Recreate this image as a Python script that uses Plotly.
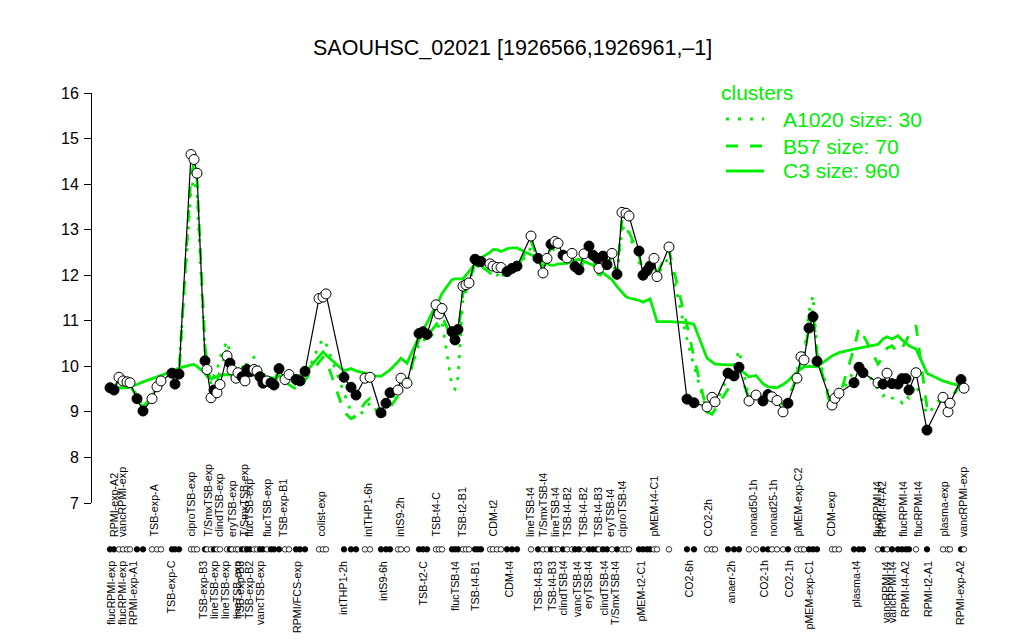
import plotly.graph_objects as go

# ---------------- data ----------------
# position of each condition along the x axis
x_pos = [110, 114, 119, 123, 127, 130, 137, 143, 152, 157, 161, 172, 175, 179, 191, 194, 197,
         205, 207, 211, 214, 217, 220, 227, 230, 232, 236, 238, 242, 245, 247, 250, 254, 257, 260,
         263, 267, 271, 274, 279, 285, 289, 296, 300, 305, 319, 323, 326, 344, 351, 356, 365, 370,
         381, 386, 390, 398, 401, 407, 419, 423, 427, 436, 439, 442, 452, 455, 458, 463, 466, 469,
         475, 478, 481, 490, 493, 497, 501, 507, 512, 517, 531, 538, 543, 547, 551, 555, 558, 563,
         567, 572, 575, 579, 584, 589, 593, 597, 599, 603, 607, 612, 617, 622, 626, 629, 639, 643,
         647, 650, 654, 657, 669, 687, 694, 707, 712, 715, 728, 734, 739, 749, 756, 763, 768, 772,
         777, 783, 788, 797, 801, 804, 809, 813, 817, 832, 835, 839, 854, 859, 863, 878, 883, 887,
         892, 898, 902, 906, 909, 916, 927, 943, 948, 950, 961, 964]

expression = [9.53, 9.48, 9.76, 9.68, 9.66, 9.64, 9.29, 9.02, 9.29, 9.55, 9.68, 9.85, 9.61, 9.83,
              14.65, 14.54, 14.24, 10.12, 9.93, 9.31, 9.48, 9.42, 9.60, 10.23, 10.07, 9.92, 9.74,
              9.86, 9.77, 9.68, 9.93, 9.88, 9.93, 9.90, 9.77, 9.63, 9.68, 9.64, 9.59, 9.95, 9.71,
              9.82, 9.71, 9.68, 9.89, 11.49, 11.52, 11.59, 9.76, 9.54, 9.37, 9.74, 9.76, 8.98, 9.19,
              9.42, 9.48, 9.74, 9.63, 10.72, 10.76, 10.70, 11.35, 11.15, 11.27, 10.76, 10.58, 10.81,
              11.76, 11.79, 11.83, 12.35, 12.31, 12.30, 12.25, 12.20, 12.17, 12.17, 12.08, 12.15,
              12.20, 12.86, 12.37, 12.05, 12.37, 12.68, 12.74, 12.70, 12.44, 12.38, 12.48, 12.19,
              12.12, 12.47, 12.64, 12.44, 12.37, 12.15, 12.42, 12.23, 12.48, 12.02, 13.38, 13.36,
              13.30, 12.53, 12.00, 12.10, 12.20, 12.37, 11.97, 12.62, 9.28, 9.20, 9.11, 9.32, 9.22,
              9.85, 9.79, 9.98, 9.24, 9.37, 9.24, 9.38, 9.33, 9.25, 9.00, 9.19, 9.74, 10.21, 10.14,
              10.84, 11.09, 10.11, 9.15, 9.30, 9.41, 9.64, 9.98, 9.86, 9.64, 9.61, 9.85, 9.62, 9.61,
              9.73, 9.73, 9.48, 9.86, 8.60, 9.32, 9.00, 9.19, 9.71, 9.52]

# 1 = filled (black) marker, 0 = open marker
filled = [1, 1, 0, 0, 0, 0, 1, 1, 0, 0, 0, 1, 1, 1, 0, 0, 0, 1, 0, 0, 1, 0, 0, 0, 1, 0, 0, 0, 1,
          0, 1, 1, 0, 0, 1, 1, 0, 1, 1, 1, 0, 0, 1, 1, 1, 0, 0, 0, 1, 1, 1, 0, 0, 1, 1, 1, 0, 0,
          0, 1, 1, 1, 0, 0, 0, 1, 1, 1, 0, 0, 0, 1, 1, 1, 0, 0, 0, 0, 1, 1, 1, 0, 1, 0, 0, 1, 0,
          0, 1, 0, 0, 1, 1, 0, 1, 1, 1, 0, 1, 1, 0, 1, 0, 0, 0, 1, 1, 1, 1, 0, 0, 0, 1, 1, 0, 0,
          0, 1, 1, 1, 0, 0, 1, 1, 0, 0, 0, 1, 0, 0, 0, 1, 1, 1, 0, 0, 0, 1, 1, 1, 0, 1, 0, 1, 1,
          1, 1, 1, 0, 1, 0, 0, 0, 1, 0]

cluster_A1020 = [9.60, 9.55, 9.70, 9.65, 9.60, 9.60, 9.35, 9.15, 9.30, 9.60, 9.75, 9.95, 9.80, 9.90,
                 13.90, 14.10, 13.80, 10.30, 10.10, 9.60, 9.80, 9.90, 10.20, 10.55, 10.30, 10.10,
                 9.95, 10.05, 10.00, 9.90, 10.10, 10.15, 10.20, 10.05, 9.95, 9.80, 9.85, 9.75, 9.65,
                 9.95, 9.75, 9.80, 9.60, 9.55, 9.75, 10.45, 10.60, 10.50, 9.40, 9.00, 8.85, 9.05,
                 9.20, 8.90, 9.05, 9.30, 9.40, 9.70, 9.60, 10.50, 10.60, 10.55, 10.80, 10.90, 11.00,
                 9.55, 9.50, 9.75, 11.50, 11.65, 11.75, 12.25, 12.20, 12.15, 12.10, 12.05, 12.00,
                 12.05, 12.05, 12.10, 12.15, 12.60, 12.30, 12.20, 12.30, 12.50, 12.60, 12.55, 12.35,
                 12.30, 12.40, 12.15, 12.05, 12.30, 12.45, 12.30, 12.20, 11.90, 12.20, 12.10, 12.30,
                 12.00, 13.00, 13.10, 12.90, 12.30, 11.95, 12.05, 12.15, 12.30, 12.00, 12.40, 10.60,
                 10.00, 9.00, 9.05, 9.10, 9.80, 10.00, 10.35, 9.30, 9.40, 9.30, 9.40, 9.35, 9.25,
                 9.05, 9.20, 9.90, 10.30, 10.25, 11.20, 11.55, 10.35, 9.10, 9.25, 9.35, 9.90, 10.05,
                 10.00, 9.50, 9.35, 9.40, 9.30, 9.30, 9.20, 9.35, 9.30, 9.60, 8.95, 9.30, 9.10, 9.20,
                 9.65, 9.50]

cluster_B57 = [9.55, 9.52, 9.70, 9.65, 9.62, 9.60, 9.30, 9.10, 9.35, 9.55, 9.70, 9.90, 9.75, 9.85,
               14.20, 14.45, 14.10, 10.45, 10.10, 9.60, 9.70, 9.65, 9.90, 10.40, 10.20, 10.00,
               9.85, 9.90, 9.85, 9.80, 10.00, 9.95, 9.95, 9.90, 9.85, 9.70, 9.70, 9.65, 9.60, 9.85,
               9.70, 9.60, 9.50, 9.45, 9.70, 10.10, 10.20, 10.15, 9.00, 8.85, 8.90, 9.20, 9.30,
               9.00, 8.90, 9.10, 9.35, 9.65, 9.60, 10.60, 10.70, 10.65, 10.90, 11.00, 11.10, 10.60,
               10.50, 10.70, 11.60, 11.70, 11.80, 12.30, 12.25, 12.20, 12.05, 11.98, 11.95, 12.00,
               12.00, 12.10, 12.15, 12.75, 12.35, 12.15, 12.40, 12.60, 12.65, 12.60, 12.40, 12.35,
               12.45, 12.20, 12.10, 12.40, 12.55, 12.35, 12.25, 12.00, 12.30, 12.20, 12.40, 12.05,
               13.20, 13.10, 12.95, 12.45, 12.05, 12.10, 12.20, 12.30, 12.05, 12.55, 10.90, 10.20,
               9.00, 8.95, 9.05, 9.50, 9.80, 9.90, 9.30, 9.40, 9.30, 9.35, 9.35, 9.30, 9.15, 9.25,
               9.80, 10.10, 10.15, 10.90, 11.25, 10.30, 9.00, 9.15, 9.30, 10.40, 10.85, 10.70,
               10.05, 10.20, 10.40, 10.45, 10.30, 10.40, 10.55, 10.70, 10.90, 9.10, 9.30, 9.20,
               9.25, 9.65, 9.55]

cluster_C3 = [9.53, 9.53, 9.52, 9.52, 9.53, 9.55, 9.60, 9.66, 9.72, 9.77, 9.80, 9.90, 9.93, 9.96,
              10.03, 10.04, 10.00, 9.85, 9.78, 9.72, 9.75, 9.78, 9.80, 9.82, 9.80, 9.80, 9.82,
              9.84, 9.85, 9.85, 9.86, 9.84, 9.80, 9.78, 9.75, 9.74, 9.76, 9.75, 9.74, 9.78, 9.80,
              9.76, 9.78, 9.80, 9.85, 10.20, 10.32, 10.25, 9.90, 9.95, 9.90, 9.85, 9.80, 9.78,
              9.85, 9.92, 10.10, 10.18, 10.07, 10.65, 10.80, 10.95, 11.35, 11.45, 11.60, 11.90,
              11.92, 11.92, 11.92, 12.00, 12.08, 12.25, 12.33, 12.38, 12.50, 12.56, 12.56, 12.52,
              12.58, 12.60, 12.60, 12.45, 12.38, 12.30, 12.25, 12.22, 12.22, 12.25, 12.26, 12.26,
              12.30, 12.33, 12.35, 12.30, 12.26, 12.22, 12.15, 12.10, 12.05, 11.98, 11.90, 11.75,
              11.62, 11.53, 11.50, 11.45, 11.41, 11.45, 11.48, 11.20, 10.98, 10.98, 10.96, 10.92,
              10.18, 10.10, 10.05, 10.03, 10.03, 9.95, 9.77, 9.80, 9.62, 9.55, 9.54, 9.53, 9.60,
              9.68, 9.88, 9.95, 9.99, 10.00, 10.00, 9.99, 10.23, 10.26, 10.30, 10.38, 10.40, 10.42,
              10.48, 10.60, 10.65, 10.60, 10.67, 10.58, 10.50, 10.45, 10.38, 9.85, 9.68, 9.64,
              9.63, 9.57, 9.55]

# x-axis labels (only the ones printed in the picture), above and below the dot row
top_label_text = ["RPMI-exp-A2", "vancRPMI-exp", "TSB-exp-A", "ciproTSB-exp", "T/SmxTSB-exp",
                  "clindTSB-exp", "eryTSB-exp", "T/SmxTSB-exp", "flucTSB-exp", "flucTSB-exp",
                  "TSB-exp-B1", "colist-exp", "intTHP1-6h", "intS9-2h", "TSB-t4-C", "TSB-t2-B1",
                  "CDM-t2", "lineTSB-t4", "T/SmxTSB-t4", "lineTSB-t4", "TSB-t4-B2", "TSB-t4-B2",
                  "TSB-t4-B3", "eryTSB-t4", "ciproTSB-t4", "pMEM-t4-C1", "CO2-2h", "nonad50-1h",
                  "nonad25-1h", "pMEM-exp-C2", "CDM-exp", "flucRPMI-t4", "RPMI-t4-A2",
                  "flucRPMI-t4", "flucRPMI-t4", "plasma-exp", "vancRPMI-exp"]
top_label_x = [114, 122, 153, 190, 207, 219, 232, 243, 249, 267, 283, 320, 368, 400, 435, 462,
               492, 530, 543, 555, 567, 583, 598, 610, 622, 653, 707, 752, 772, 797, 830, 877,
               882, 903, 918, 943, 963]

bottom_label_text = ["flucRPMI-exp", "flucRPMI-exp", "RPMI-exp-A1", "TSB-exp-C", "TSB-exp-B3",
                     "lineTSB-exp", "lineTSB-exp", "lineTSB-exp", "TSB-exp-B3", "TSB-exp-B2",
                     "vancTSB-exp", "RPMI/FCS-exp", "intTHP1-2h", "intS9-6h", "TSB-t2-C",
                     "flucTSB-t4", "TSB-t4-B1", "CDM-t4", "TSB-t4-B3", "TSB-t4-B3", "clindTSB-t4",
                     "vancTSB-t4", "eryTSB-t4", "clindTSB-t4", "T/SmxTSB-t4", "pMEM-t2-C1",
                     "CO2-6h", "anaer-2h", "CO2-1h", "CO2-1h", "pMEM-exp-C1", "plasma-t4",
                     "vancRPMI-t4", "vancRPMI-t4", "RPMI-t4-A2", "RPMI-t2-A1", "RPMI-exp-A2"]
bottom_label_x = [111, 122, 133, 170, 203, 214, 225, 237, 240, 249, 260, 297, 343, 383, 422,
                  455, 475, 508, 538, 552, 562, 577, 588, 603, 615, 640, 688, 730, 763, 788, 808,
                  855, 886, 892, 905, 928, 960]

cluster_names = ["A1020 size: 30", "B57 size: 70", "C3 size: 960"]
y_ticks = [7, 8, 9, 10, 11, 12, 13, 14, 15, 16]

# ---------------- styling / layout helpers ----------------
GREEN = "#00EE00"
FONT = "Liberation Sans, Arial, sans-serif"
W, H = 1024, 640
TOP = 93                 # pixel row of y=16
BOTTOM = 503             # pixel row of y=7
AREA_H = H - TOP         # plotting area runs down to the bottom of the page
MAIN_DOMAIN0 = (H - BOTTOM) / AREA_H


def py_to_paper(py):
    return (H - py) / AREA_H


fig = go.Figure()

for vals, dash in [(cluster_A1020, "3px,8px"), (cluster_B57, "12px,12px"), (cluster_C3, "solid")]:
    fig.add_trace(go.Scatter(x=x_pos, y=vals, mode="lines",
                             line=dict(color=GREEN, width=2.8, dash=dash),
                             hoverinfo="skip", showlegend=False))

marker_fill = ["black" if f else "white" for f in filled]

fig.add_trace(go.Scatter(x=x_pos, y=expression, mode="lines+markers",
                         line=dict(color="black", width=1.2),
                         marker=dict(size=10, color=marker_fill,
                                     line=dict(color="black", width=1)),
                         showlegend=False))

# dot row under the plot (on a hidden lower axis measured in pixels above page bottom)
fig.add_trace(go.Scatter(x=x_pos, y=[H - 549] * len(x_pos), yaxis="y2", mode="markers",
                         marker=dict(size=5.5, color=marker_fill,
                                     line=dict(color="black", width=0.8)),
                         cliponaxis=False, showlegend=False))

annotations = []
for t, x in zip(top_label_text, top_label_x):
    annotations.append(dict(x=x, y=py_to_paper(539), xref="x", yref="paper", text=t,
                            textangle=-90, showarrow=False, xanchor="center", yanchor="bottom",
                            font=dict(family=FONT, size=10.7, color="black")))
for t, x in zip(bottom_label_text, bottom_label_x):
    annotations.append(dict(x=x, y=py_to_paper(559), xref="x", yref="paper", text=t,
                            textangle=-90, showarrow=False, xanchor="center", yanchor="top",
                            font=dict(family=FONT, size=10.7, color="black")))

# title
annotations.append(dict(x=512, y=py_to_paper(48), xref="x", yref="paper",
                        text="SAOUHSC_02021 [1926566,1926961,\u20131]", showarrow=False,
                        xanchor="center", yanchor="middle",
                        font=dict(family=FONT, size=21.5, color="black")))

# legend (drawn by hand like the R legend)
annotations.append(dict(x=719, y=py_to_paper(92), xref="x", yref="paper", text="clusters",
                        showarrow=False, xanchor="left", yanchor="middle",
                        font=dict(family=FONT, size=21, color=GREEN)))
shapes = []
legend_rows = [119, 146, 171]
for name, py, dash in zip(cluster_names, legend_rows, ["3px,9px", "12px,12px", "solid"]):
    annotations.append(dict(x=781, y=py_to_paper(py), xref="x", yref="paper", text=name,
                            showarrow=False, xanchor="left", yanchor="middle",
                            font=dict(family=FONT, size=21, color=GREEN)))
    shapes.append(dict(type="line", xref="x", yref="paper", x0=726, x1=764,
                       y0=py_to_paper(py), y1=py_to_paper(py),
                       line=dict(color=GREEN, width=2.8, dash=dash)))

fig.update_layout(
    width=W, height=H,
    margin=dict(l=92, r=34, t=TOP, b=0, pad=0, autoexpand=False),
    paper_bgcolor="white", plot_bgcolor="white",
    showlegend=False,
    annotations=annotations, shapes=shapes,
    xaxis=dict(range=[92, 990], visible=False, fixedrange=True, anchor="y",
               automargin=False),
    yaxis=dict(domain=[MAIN_DOMAIN0, 1], range=[7, 16], tickvals=y_ticks,
               ticktext=[str(v) for v in y_ticks], automargin=False,
               showgrid=False, zeroline=False, showline=True, linecolor="black", linewidth=1,
               ticks="outside", ticklen=7, tickcolor="black", tickwidth=1,
               ticklabelstandoff=2,
               tickfont=dict(family=FONT, size=16, color="black")),
    yaxis2=dict(domain=[0, MAIN_DOMAIN0 - 0.001], range=[0, H - BOTTOM], visible=False,
                fixedrange=True, automargin=False),
)

fig.write_html("out.html", config={"displayModeBar": False},
               post_script="document.body.style.margin='0';document.body.style.overflow='hidden';")
